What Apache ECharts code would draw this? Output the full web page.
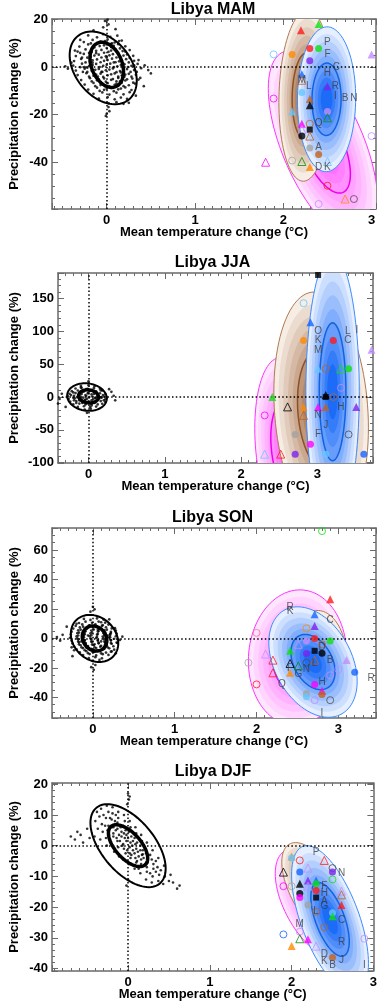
<!DOCTYPE html>
<html><head><meta charset="utf-8">
<script src="https://cdn.jsdelivr.net/npm/echarts/dist/echarts.min.js"></script>
<style>html,body{margin:0;padding:0;background:#fff}#c{width:380px;height:1007px}</style>
</head><body><div id="c"></div><script>
// ---------------- text ----------------
const TITLES = ['Libya MAM', 'Libya JJA', 'Libya SON', 'Libya DJF'];
const X_NAME = 'Mean temperature change (°C)';
const Y_NAME = 'Precipitation change (%)';

// ---------------- axis ranges ----------------
const xRangeMAM = [-0.62, 3.05], yRangeMAM = [-59.7, 20.3];
const xRangeJJA = [-0.40, 3.73], yRangeJJA = [-100.5, 189];
const xRangeSON = [-0.50, 3.46], yRangeSON = [-54, 75];
const xRangeDJF = [-0.93, 3.0],  yRangeDJF = [-40.8, 20.4];

// ---------------- control (natural variability) clouds ----------------
const cloudMAM = [[-0.02,19.5],[0.02,18],[-0.04,16.8],[0.01,20],[0.03,-18.5],[-0.01,-20.5],[0.02,-16.8],[0.0,-19.6],
[0.47,-1.2],[0.43,0.8],[0.5,-2.6],[-0.44,-0.6],[-0.4,1.9],[-0.47,0.4],[0.38,-4.5],[0.33,-12],[-0.3,11.5],[0.1,16],[-0.15,15.5],[0.25,-15],[-0.36,7],[0.42,-8],
[-0.21,13.4],[-0.11,12.6],[-0.04,13.9],[0.04,12.8],[0.12,13.3],
[-0.26,10.6],[-0.16,11.5],[-0.07,10.8],[0.01,11.7],[0.09,10.4],[0.17,11.2],
[-0.31,8.7],[-0.21,9.6],[-0.14,8.3],[-0.03,9.2],[0.05,8.5],[0.13,9.7],[0.21,8.8],
[-0.33,6.6],[-0.24,7.5],[-0.17,6.4],[-0.06,7.3],[0.02,6.5],[0.1,7.6],[0.18,6.8],[0.26,7.2],
[-0.35,4.7],[-0.26,5.6],[-0.18,4.4],[-0.09,5.3],[-0.01,4.6],[0.07,5.5],[0.15,4.5],[0.23,5.4],[0.3,4.8],
[-0.37,2.6],[-0.29,3.5],[-0.19,2.4],[-0.11,3.3],[-0.03,2.7],[0.06,3.6],[0.14,2.5],[0.22,3.4],[0.31,2.7],
[-0.38,0.7],[-0.28,1.5],[-0.2,0.5],[-0.12,1.4],[-0.04,0.6],[0.04,1.5],[0.12,0.4],[0.2,1.3],[0.28,0.6],[0.35,1.4],
[-0.35,-1.4],[-0.25,-0.6],[-0.17,-1.5],[-0.09,-0.7],[-0.01,-1.3],[0.07,-0.5],[0.15,-1.6],[0.23,-0.8],[0.31,-1.2],[0.39,-0.4],
[-0.33,-3.3],[-0.23,-2.5],[-0.15,-3.6],[-0.07,-2.7],[0.01,-3.4],[0.09,-2.6],[0.17,-3.5],[0.25,-2.8],[0.33,-3.2],
[-0.29,-5.4],[-0.19,-4.6],[-0.11,-5.5],[-0.03,-4.7],[0.05,-5.3],[0.13,-4.5],[0.21,-5.6],[0.29,-4.8],[0.36,-5.2],
[-0.25,-7.3],[-0.15,-6.6],[-0.07,-7.5],[0.01,-6.7],[0.09,-7.4],[0.17,-6.5],[0.25,-7.6],[0.32,-6.9],
[-0.21,-9.4],[-0.11,-8.6],[-0.03,-9.5],[0.05,-8.7],[0.13,-9.3],[0.21,-8.5],[0.28,-9.6],
[-0.15,-11.2],[-0.05,-10.6],[0.03,-11.5],[0.11,-10.7],[0.19,-11.4],[0.26,-10.5],
[-0.09,-13.2],[0.01,-12.6],[0.09,-13.5],[0.16,-12.8],[0.23,-13.3],
[0.02,-15.2],[0.11,-14.7],[0.19,-15.4],
[-0.12,5.9],[0.08,2.0],[-0.06,-2.0],[0.16,-2.2],[-0.16,1.9],[0.0,4.0],[0.11,-6.0],[-0.1,-4.0],[0.05,9.8],[-0.22,-0.2],[0.2,-4.0],[-0.02,-8.0],
[-0.16,8.0],[-0.08,8.9],[0.0,8.1],[0.08,9.0],[0.15,7.9],
[-0.2,6.0],[-0.12,6.9],[-0.03,6.1],[0.05,7.0],[0.13,6.0],[0.21,6.6],
[-0.22,4.0],[-0.14,4.9],[-0.06,4.1],[0.03,5.0],[0.11,4.1],[0.19,4.9],[0.26,3.9],
[-0.24,2.0],[-0.16,2.9],[-0.07,2.1],[0.01,3.0],[0.1,2.1],[0.17,2.9],[0.25,2.0],
[-0.25,0.0],[-0.16,0.9],[-0.08,0.1],[0.0,1.0],[0.08,0.0],[0.16,0.9],[0.24,0.1],[0.31,0.8],
[-0.22,-2.0],[-0.13,-1.1],[-0.05,-2.0],[0.03,-1.0],[0.11,-2.1],[0.19,-1.1],[0.27,-2.0],
[-0.2,-4.0],[-0.12,-3.1],[-0.04,-4.1],[0.05,-3.0],[0.13,-4.0],[0.21,-3.1],[0.28,-4.0],
[-0.17,-6.0],[-0.09,-5.1],[-0.01,-6.1],[0.07,-5.0],[0.15,-6.0],[0.23,-5.1],
[-0.13,-8.0],[-0.05,-7.1],[0.03,-8.1],[0.11,-7.0],[0.19,-8.0],
[-0.08,-10.0],[0.0,-9.1],[0.08,-10.1],[0.16,-9.0],
[-0.1,10.2],[-0.02,11.0],[0.06,10.0],[0.14,11.0],[-0.18,10.0],
[-0.28,4.0],[-0.3,0.0],[-0.27,-2.0],[0.34,-2.0],[0.36,3.0],[-0.3,6.0],[0.3,-6.5]];

const cloudJJA = [[-0.38,-3],[-0.35,5],[-0.4,-10],[0.33,2],[0.3,8],[0.35,-5],[0.0,24],[-0.02,-24],[0.27,12],[-0.3,-15],
[-0.1,17],[0.0,18],[0.08,16.5],
[-0.17,13],[-0.09,14],[-0.01,12.5],[0.07,13.5],[0.15,12.8],
[-0.22,9],[-0.14,10],[-0.06,8.5],[0.02,9.5],[0.1,8.8],[0.18,9.8],
[-0.25,5],[-0.17,6],[-0.09,4.5],[-0.01,5.5],[0.07,4.8],[0.15,5.8],[0.22,4.6],
[-0.27,1],[-0.19,2],[-0.11,0.5],[-0.03,1.5],[0.05,0.8],[0.13,1.8],[0.21,0.6],
[-0.26,-3],[-0.18,-2],[-0.1,-3.5],[-0.02,-2.5],[0.06,-3.2],[0.14,-2.2],[0.22,-3.4],
[-0.24,-7],[-0.16,-6],[-0.08,-7.5],[0.0,-6.5],[0.08,-7.2],[0.16,-6.2],[0.22,-7.4],
[-0.2,-11],[-0.12,-10],[-0.04,-11.5],[0.04,-10.5],[0.12,-11.2],[0.18,-10.2],
[-0.14,-15],[-0.06,-14],[0.02,-15.5],[0.1,-14.5],
[-0.05,-19],[0.03,-18],[-0.13,3],[0.09,-1],[-0.05,-5],[0.11,6],[-0.19,-5],[0.17,-1],
[-0.15,0],[-0.07,-1],[0.01,0],[0.09,-1.5],[0.17,0],[-0.12,4],[-0.04,3],[0.04,4],[0.12,3],[-0.12,-5],[-0.04,-4],[0.04,-5],[0.12,-4],[-0.08,8],[0.0,7],[0.08,8],[-0.08,-9],[0.0,-8],[0.08,-9],[-0.2,-1],[0.19,3],[-0.2,7],[0.2,-5],[-0.16,-9],[0.16,10],[-0.03,12],[0.04,-13],[-0.23,3],[0.24,-1],[-0.1,14.5]];

const cloudSON = [[0.0,21.5],[0.02,19.8],[-0.03,18.2],[0.01,-21.3],[-0.02,-19.5],[0.03,-18],[-0.44,1],[-0.4,-1.5],[-0.37,2.5],[0.33,-1],[0.36,1.2],[0.3,-3],[-0.32,8],[0.28,-10],[-0.25,-12],[0.2,13],
[-0.11,13.3],[-0.03,12.6],[0.05,13.6],[0.13,12.8],
[-0.17,10.5],[-0.09,11.4],[-0.01,10.6],[0.07,11.5],[0.15,10.7],
[-0.21,8.6],[-0.13,9.5],[-0.05,8.7],[0.03,9.6],[0.11,8.5],[0.19,9.4],
[-0.24,6.7],[-0.16,7.5],[-0.08,6.5],[0.0,7.4],[0.08,6.6],[0.16,7.6],[0.23,6.8],
[-0.26,4.6],[-0.18,5.5],[-0.1,4.5],[-0.02,5.4],[0.06,4.7],[0.14,5.6],[0.22,4.5],[0.28,5.3],
[-0.27,2.7],[-0.19,3.6],[-0.11,2.5],[-0.03,3.4],[0.05,2.6],[0.13,3.5],[0.21,2.4],[0.29,3.3],
[-0.28,0.5],[-0.2,1.4],[-0.12,0.6],[-0.04,1.5],[0.04,0.4],[0.12,1.3],[0.2,0.7],[0.28,1.5],
[-0.26,-1.5],[-0.18,-0.6],[-0.1,-1.4],[-0.02,-0.5],[0.06,-1.6],[0.14,-0.7],[0.22,-1.3],[0.3,-0.5],
[-0.25,-3.4],[-0.17,-2.6],[-0.09,-3.5],[-0.01,-2.5],[0.07,-3.3],[0.15,-2.7],[0.23,-3.6],[0.29,-2.8],
[-0.23,-5.5],[-0.15,-4.6],[-0.07,-5.4],[0.01,-4.5],[0.09,-5.6],[0.17,-4.7],[0.25,-5.3],
[-0.2,-7.4],[-0.12,-6.6],[-0.04,-7.5],[0.04,-6.5],[0.12,-7.3],[0.2,-6.7],[0.26,-7.6],
[-0.16,-9.5],[-0.08,-8.6],[0.0,-9.4],[0.08,-8.5],[0.16,-9.6],[0.23,-8.8],
[-0.12,-11.3],[-0.04,-10.6],[0.04,-11.5],[0.12,-10.7],[0.19,-11.2],
[-0.05,-13.4],[0.03,-12.7],[0.11,-13.5],[0.0,-15.3],[0.08,-14.6],
[-0.06,2.0],[0.1,-2.0],[0.02,-4.0],[-0.14,-2.0],[0.18,2.0],[-0.08,-6.2],[0.06,6.0],
[-0.12,8.0],[-0.04,8.9],[0.04,8.1],[0.12,9.0],
[-0.15,6.0],[-0.07,6.9],[0.01,6.1],[0.09,7.0],[0.17,6.0],
[-0.17,4.0],[-0.09,4.9],[-0.01,4.1],[0.07,5.0],[0.15,4.1],[0.22,3.7],
[-0.18,2.0],[-0.1,2.9],[-0.02,2.1],[0.06,3.0],[0.14,2.1],[0.21,2.9],
[-0.19,0.0],[-0.11,0.9],[-0.03,0.1],[0.05,1.0],[0.13,0.0],[0.21,0.9],[0.26,-0.2],
[-0.18,-2.0],[-0.1,-1.1],[-0.02,-2.0],[0.06,-1.0],[0.14,-2.1],[0.22,-1.1],
[-0.17,-4.0],[-0.09,-3.1],[-0.01,-4.1],[0.07,-3.0],[0.15,-4.0],[0.22,-3.1],
[-0.14,-6.0],[-0.06,-5.1],[0.02,-6.1],[0.1,-5.0],[0.18,-6.0],
[-0.1,-8.0],[-0.02,-7.1],[0.06,-8.1],[0.14,-7.0],
[-0.06,-10.0],[0.02,-9.1],[0.1,-10.1],
[-0.2,10.0],[0.1,11.0],[-0.23,-8.0],[0.22,-9.0],[-0.26,-6.0],[0.27,7.0]];

const cloudDJF = [[-0.4,8],[-0.41,3],[-0.38,11],
[-0.33,12],[-0.32,7],[-0.34,2],[-0.31,4.5],
[-0.26,13],[-0.27,9],[-0.25,5],[-0.26,0],[-0.24,11],[-0.27,2.5],
[-0.19,12.5],[-0.2,8.5],[-0.18,4],[-0.2,0.5],[-0.17,-2],[-0.19,10.5],[-0.18,6],
[-0.12,11],[-0.13,7.5],[-0.11,3.5],[-0.12,-0.5],[-0.11,-3.5],[-0.13,5.5],[-0.12,9],[-0.1,1.5],
[-0.05,10],[-0.06,6.5],[-0.04,2.5],[-0.05,-1],[-0.06,-4.5],[-0.04,8],[-0.05,4],[-0.03,-2.5],[-0.06,0.5],
[0.02,8],[0.01,4.5],[0.03,1],[0.02,-2.5],[0.01,-6],[0.03,6],[0.02,-0.5],[0.0,2.5],[0.03,-4],
[0.09,6],[0.08,2.5],[0.1,-1],[0.09,-4],[0.08,-7.5],[0.1,4],[0.09,0.5],[0.08,-2.5],[0.1,-5.5],
[0.16,3.5],[0.15,0],[0.17,-3],[0.16,-6],[0.15,-9],[0.17,1.5],[0.16,-4.5],[0.15,-1.5],
[0.23,1],[0.22,-2.5],[0.24,-5.5],[0.23,-8.5],[0.22,-11],[0.24,-4],[0.23,-7],
[0.3,-1.5],[0.29,-4.5],[0.31,-7.5],[0.3,-10],[0.29,-12],[0.31,-6],
[0.37,-4],[0.36,-7],[0.38,-9.5],[0.37,-11.5],
[0.44,-6.5],[0.45,-10],[0.43,-12.5],
[-0.7,3],[-0.62,4.5],[-0.55,1],[-0.5,5.5],[-0.65,2],[-0.58,3.5],[-0.47,2.5],[0.55,-12],[0.6,-14],[0.52,-9.5],[0.63,-13],[0.5,-11.5],
[0.0,17],[0.01,15],[-0.01,13.5],[0.02,16],[-0.02,-13],[0.0,-11],
[-0.2,6],[-0.18,3],[-0.16,8],[-0.15,5],[-0.13,1.5],[-0.14,2.5],[-0.09,6],[-0.08,3],[-0.07,0],[-0.08,4.5],[-0.03,5],[-0.02,1.5],[-0.01,-1.5],[-0.02,3.5],[0.04,3],[0.05,0],[0.04,-3],[0.06,1.5],[0.06,-1.5],[0.11,1],[0.12,-2],[0.11,-5],[0.13,-3.5],[0.18,-1.5],[0.19,-4],[0.2,-6.5],[0.18,-2.8],[-0.22,9],[-0.24,6.5],[-0.28,6.5],[-0.35,9.5],[-0.3,10],[0.27,-3],[0.27,-9],[0.34,-8.5],[0.34,-5],[0.4,-8],[-0.37,5.5],[0.13,-7.5],[-0.15,10]];

// control ellipses: [centreX, centreY, halfWidthX, halfHeightY, correlation]  (outer, inner)
const ctrlEllMAM = [[-0.04,-0.3,0.38,15.3,-0.35],[0.0,1.0,0.19,9.5,-0.3]];
const ctrlEllJJA = [[-0.02,0,0.26,21,-0.1],[0.0,1,0.13,10,-0.1]];
const ctrlEllSON = [[0.02,0,0.29,16,-0.2],[0.02,0,0.15,8.5,-0.15]];
const ctrlEllDJF = [[0,0,0.46,13.5,-0.55],[0,0,0.24,6.8,-0.6]];

// ensemble ellipses: [centreX, centreY, halfWidthX, halfHeightY, correlation]
const pinkMAM = [[2.45,-33,0.62,40,-0.6]];
const brownMAM = [[2.25,-12,0.30,36,0.08]];
const blueMAM = [[2.49,-13.5,0.33,30.5,0.02]];
const pinkJJA = [[2.6,-75,0.42,135,-0.2]];
const brownJJA = [[3.05,-20,0.62,180,-0.15]];
const blueJJA = [[3.2,8,0.35,210,0]];
const pinkSON = [[2.5,-13,0.6,46,0.05]];
const brownSON = [[2.78,-10,0.32,29,-0.1]];
const blueSON = [[2.69,-16,0.54,37.5,-0.35]];
const pinkDJF = [[2.28,-19,0.48,18,-0.55]];
const brownDJF = [[2.3,-15,0.42,16,-0.6]];
const blueDJF = [[2.47,-24,0.47,24,-0.6]];

// individual models: [x, y, colour+shape key]
const marksMAM = [[2.20,15.6,'rT'],[2.40,18.2,'gT'],[1.89,5.4,'lc'],[2.10,5.4,'oC'],[2.30,7.9,'rC'],[2.40,7.9,'gC'],[2.30,2.7,'pC'],[2.21,-3,'bT'],[2.21,-5.5,'nt'],[2.21,-10.6,'lC'],[2.30,-13.4,'nT'],[2.30,-16,'kT'],[2.50,-8,'pT'],[2.10,-18.6,'lT'],[2.50,-18.6,'vC'],[2.50,-21.3,'Gt'],[2.21,-23.8,'mT'],[2.30,-23.8,'nc'],[2.30,-26.3,'kS'],[2.21,-26.3,'vt'],[2.21,-29,'kC'],[2.30,-29,'nt'],[2.30,-34,'aC'],[2.40,-36.8,'nC'],[1.80,-40,'mt'],[2.10,-39.3,'ac'],[2.21,-39.7,'Gt'],[2.50,-39.7,'lt'],[2.30,-42,'oT'],[1.89,-13.2,'mc'],[3.0,5.4,'vT'],[3.0,-29,'vc'],[2.50,-49.9,'rc'],[2.40,-57.6,'vc'],[2.70,-55.5,'ot'],[2.80,-55.5,'dc']];
const marksJJA = [[3.01,186,'kS'],[2.82,143,'lc'],[2.91,114,'bT'],[2.82,86,'oC'],[3.21,86,'rC'],[3.71,72,'vT'],[3.01,43,'lT'],[3.11,43,'nc'],[3.31,43,'gt'],[3.41,43,'gC'],[3.31,14,'vc'],[2.41,0,'gT'],[3.11,0,'kS'],[3.11,3,'kT'],[3.21,0,'nc'],[2.61,-15,'kt'],[2.82,-15,'oT'],[3.01,-15,'mT'],[3.11,-15,'nT'],[3.51,-15,'pT'],[2.31,-28,'mc'],[2.82,-28,'nt'],[2.71,-57,'aC'],[2.91,-72,'mC'],[3.41,-57,'dc'],[2.31,-87,'lt'],[2.52,-87,'rt'],[2.71,-87,'pC'],[3.11,-87,'lC'],[3.61,-87,'bC'],[2.82,-101,'mT']];
const marksSON = [[2.80,72.9,'gc'],[2.90,26.7,'rT'],[2.71,16.5,'bT'],[2.61,6.8,'oc'],[2.71,8.4,'pT'],[2.71,0,'rC'],[2.90,-1.8,'gC'],[2.80,-4,'nc'],[2.00,3.8,'ic'],[2.51,-4,'vt'],[2.61,-1.8,'vC'],[2.71,-8.4,'kS'],[2.80,-10,'kC'],[2.41,-8.4,'gT'],[2.61,-10.2,'pC'],[2.11,-10.6,'vt'],[2.20,-14.7,'rt'],[1.90,-16.5,'ac'],[2.41,-17,'kt'],[2.51,-18.6,'Gt'],[2.61,-16.5,'dc'],[2.71,-14.7,'nt'],[3.10,-14.7,'vT'],[3.00,-21,'vc'],[2.90,-25,'vc'],[3.20,-22.9,'bC'],[2.20,-23.3,'rt'],[2.41,-23.3,'oT'],[2.00,-31.2,'rc'],[2.71,-31.2,'mC'],[2.80,-35.5,'mT'],[2.61,-37.4,'aC'],[2.61,-39.6,'lC'],[2.80,-38,'nC'],[2.71,-41.9,'vc'],[2.90,-41.9,'dc']];
const marksDJF = [[2.0,-3.5,'oT'],[2.0,-4,'lC'],[2.10,-4.8,'rc'],[2.40,-4.8,'rt'],[1.90,-8.6,'kt'],[2.10,-8.6,'bC'],[2.20,-7.3,'vt'],[2.50,-7.3,'dc'],[2.50,-8.6,'pC'],[2.10,-12.4,'kT'],[2.20,-11.3,'pT'],[2.30,-11.3,'bT'],[2.30,-12.4,'gC'],[2.50,-11,'gc'],[1.90,-13.2,'mc'],[2.0,-13.2,'ac'],[2.20,-13.2,'vt'],[2.10,-15.6,'kC'],[2.10,-16.9,'mC'],[2.30,-14.6,'rC'],[2.30,-16.9,'kS'],[2.61,-14.8,'vt'],[2.61,-16,'nt'],[2.20,-19.3,'aC'],[2.30,-21.5,'nc'],[2.61,-19.3,'rT'],[2.50,-21.8,'lC'],[2.50,-23,'gT'],[2.40,-26.6,'nc'],[2.10,-28,'vc'],[1.90,-28.9,'bc'],[2.10,-30.3,'Gt'],[2.20,-30.5,'mT'],[2.89,-30.3,'vc'],[2.0,-32.7,'oT'],[2.30,-32.7,'vt'],[2.50,-36.4,'nC']];

// model letters: [x, y, letter]
const lettersMAM = [[2.5,10.4,'P'],[2.5,5.4,'F'],[2.6,0,'C'],[2.5,-2.7,'H'],[2.59,-8,'R'],[2.59,-12.3,'I'],[2.7,-13.2,'B'],[2.8,-13.2,'N'],[2.29,-8,'L'],[2.21,-5.5,'M'],[2.4,-23.5,'Q'],[2.4,-33.7,'A'],[2.4,-42,'D'],[2.5,-42,'K']];
const lettersJJA = [[3.01,100,'O'],[3.01,86,'K'],[3.01,72,'M'],[3.40,100,'L'],[3.40,86,'C'],[3.52,102,'I'],[3.31,-15,'H'],[3.01,-28,'N'],[3.11,-43,'J'],[3.01,-57,'F']];
const lettersSON = [[2.41,21,'R'],[2.41,18.5,'K'],[2.90,12.5,'C'],[2.80,-6,'D'],[2.71,-17,'L'],[2.61,-20.8,'N'],[2.90,-14.7,'B'],[2.41,-20.4,'F'],[2.51,-24,'G'],[2.31,-31.2,'Q'],[2.80,-29.4,'H'],[3.40,-27,'R'],[2.80,-51,'I']];
const lettersDJF = [[2.30,-2.3,'P'],[2.61,-8.9,'N'],[2.40,-13.2,'F'],[2.40,-15.6,'H'],[2.40,-18,'A'],[2.40,-19.6,'G'],[2.30,-21.5,'L'],[2.61,-24.4,'C'],[2.10,-25.5,'M'],[2.61,-31.4,'R'],[2.40,-35.2,'D'],[2.40,-37.5,'K'],[2.61,-37.3,'J'],[2.50,-38.9,'B'],[2.89,-38.9,'I']];

// ---------------- styles ----------------
const COLORS = {r:'#ff1a1a', g:'#10e010', G:'#0a8f0a', b:'#1464ff', l:'#66c6ff', o:'#ff8a00', p:'#7d22ee', v:'#c38cff', m:'#ff00ff', n:'#c2611d', k:'#000000', a:'#a3a3a3', d:'#4f4f4f', i:'#ff6a9a'};
const SHAPES = {T:['triangle',true], t:['triangle',false], C:['circle',true], c:['circle',false], S:['rect',true]};
const PAL = {
  pink:  {light:[255,230,255], dark:[255,95,255],  edge:'#ff30ff', ring:'#ee00ee'},
  brown: {light:[246,237,229], dark:[158,98,56],   edge:'#b07a50', ring:'#8a5228'},
  blue:  {light:[230,239,255], dark:[28,108,248],  edge:'#3d8bff', ring:'#1263e0'}
};
const AX = '#6a6a6a';
const FONT = 'Liberation Sans';

const GRIDS = [
  {left:50, top:19,  width:326, height:190},
  {left:50, top:273, width:323, height:190},
  {left:50, top:528, width:326, height:190},
  {left:50, top:783, width:326, height:188}
];
const PANELS = [
  {x:xRangeMAM, y:yRangeMAM, cloud:cloudMAM, ctrl:ctrlEllMAM, pink:pinkMAM, brown:brownMAM, blue:blueMAM, marks:marksMAM, letters:lettersMAM, yMinor:4, showXMax:false, yNameGap:31, dot:2.7},
  {x:xRangeJJA, y:yRangeJJA, cloud:cloudJJA, ctrl:ctrlEllJJA, pink:pinkJJA, brown:brownJJA, blue:blueJJA, marks:marksJJA, letters:lettersJJA, yMinor:5, showXMax:false, yNameGap:37, dot:2.7},
  {x:xRangeSON, y:yRangeSON, cloud:cloudSON, ctrl:ctrlEllSON, pink:pinkSON, brown:brownSON, blue:blueSON, marks:marksSON, letters:lettersSON, yMinor:4, showXMax:false, yNameGap:31, dot:2.7},
  {x:xRangeDJF, y:yRangeDJF, cloud:cloudDJF, ctrl:ctrlEllDJF, pink:pinkDJF, brown:brownDJF, blue:blueDJF, marks:marksDJF, letters:lettersDJF, yMinor:5, showXMax:true, yNameGap:31, dot:2.6}
];
const TITLE_POS = [[213,10],[212.5,262.7],[212.5,517.5],[213,771.3]];

// ---------------- helpers ----------------
function ellPts(api, cx, cy, sx, sy, r, k) {
  const pts = [], s = Math.sqrt(1 - r * r), N = 96;
  for (let i = 0; i < N; i++) {
    const t = i / N * 2 * Math.PI, c = Math.cos(t), sn = Math.sin(t);
    pts.push(api.coord([cx + k * sx * c, cy + k * sy * (r * c + s * sn)]));
  }
  return pts;
}
function mix(a, b, t) {
  return 'rgb(' + a.map((v, i) => Math.round(v + (b[i] - v) * t)).join(',') + ')';
}
function colourEllRender(kind) {
  const pal = PAL[kind];
  return function (params, api) {
    const v = [0,1,2,3,4].map(i => api.value(i));
    const children = [];
    const LEVELS = 9;
    for (let i = 0; i < LEVELS; i++) {
      const k = 1 - i * 0.1;
      children.push({type:'polygon', shape:{points: ellPts(api, v[0], v[1], v[2], v[3], v[4], k)},
        style:{fill: mix(pal.light, pal.dark, i / (LEVELS - 1)), stroke: null}});
    }
    children.push({type:'polygon', shape:{points: ellPts(api, v[0], v[1], v[2], v[3], v[4], 1)}, style:{fill:'none', stroke: pal.edge, lineWidth: 1}});
    children.push({type:'polygon', shape:{points: ellPts(api, v[0], v[1], v[2], v[3], v[4], 0.5)}, style:{fill:'none', stroke: pal.ring, lineWidth: 1.5}});
    return {type:'group', children};
  };
}
function ctrlEllRender(params, api) {
  const v = [0,1,2,3,4].map(i => api.value(i));
  return {type:'polygon', shape:{points: ellPts(api, v[0], v[1], v[2], v[3], v[4], 1)},
    style:{fill:'none', stroke:'#000', lineWidth: params.dataIndex === 0 ? 2 : 3.5}};
}
function markerItems(list) {
  return list.map(([x, y, key]) => {
    const col = COLORS[key[0]];
    const [sym, filled] = SHAPES[key[1]];
    const size = sym === 'rect' ? 6 : (sym === 'triangle' ? 8 : 7);
    return {value:[x, y], symbol: sym, symbolSize: size,
      itemStyle: filled ? {color: col, borderWidth: 0} : {color:'rgba(0,0,0,0)', borderColor: col, borderWidth: 1}};
  });
}

// ---------------- build option ----------------
const grid = [], xAxis = [], yAxis = [], series = [];
function axisBase(range, minorSplit) {
  return {type:'value', min: range[0], max: range[1], gridIndex: 0,
    splitLine:{show:false}, minorSplitLine:{show:false},
    axisLine:{show:true, onZero:false, lineStyle:{color: AX, width: 1.5}},
    axisTick:{show:true, inside:true, length:6, lineStyle:{color: AX, width: 1}},
    minorTick:{show:true, splitNumber: minorSplit, length:3, lineStyle:{color: AX, width: 1}}};
}
const labelStyle = {color:'#000', fontWeight:'bold', fontSize:13, fontFamily: FONT};

PANELS.forEach((p, i) => {
  grid.push(Object.assign({containLabel:false}, GRIDS[i]));
  const xb = axisBase(p.x, 10), xt = axisBase(p.x, 10), yl = axisBase(p.y, p.yMinor), yr = axisBase(p.y, p.yMinor);
  [xb, xt, yl, yr].forEach(a => a.gridIndex = i);
  xb.position = 'bottom';
  xb.axisLabel = Object.assign({show:true, margin:5, showMinLabel:false, showMaxLabel:p.showXMax}, labelStyle);
  xb.name = X_NAME; xb.nameLocation = 'middle'; xb.nameGap = 17; xb.nameMoveOverlap = false;
  xb.nameTextStyle = Object.assign({}, labelStyle);
  xt.position = 'top'; xt.axisLabel = {show:false};
  yl.position = 'left';
  yl.splitNumber = (i === 2) ? 6 : 5;
  yr.splitNumber = yl.splitNumber;
  yl.axisLabel = Object.assign({show:true, margin:4, showMinLabel:false, showMaxLabel:false}, labelStyle);
  yl.name = Y_NAME; yl.nameLocation = 'middle'; yl.nameGap = p.yNameGap; yl.nameMoveOverlap = false;
  yl.nameTextStyle = Object.assign({}, labelStyle);
  yr.position = 'right'; yr.axisLabel = {show:false};
  xAxis.push(xb, xt); yAxis.push(yl, yr);
  const xi = 2 * i, yi = 2 * i;

  // control cloud + zero lines
  series.push({type:'scatter', xAxisIndex: xi, yAxisIndex: yi, data: p.cloud, symbol:'circle', symbolSize: p.dot,
    itemStyle:{color:'#000'}, silent:true, z:2, clip:true,
    markLine:{silent:true, symbol:'none', label:{show:false}, animation:false,
      lineStyle:{type:[1.5,2.3], color:'#000', width:1.5},
      emphasis:{disabled:true}, data:[{xAxis:0}, {yAxis:0}]}});
  series.push({type:'custom', xAxisIndex: xi, yAxisIndex: yi, data: p.ctrl, renderItem: ctrlEllRender, silent:true, z:3, clip:true});
  // ensemble ellipses
  ['pink', 'brown', 'blue'].forEach(kind => {
    series.push({type:'custom', xAxisIndex: xi, yAxisIndex: yi, data: p[kind], renderItem: colourEllRender(kind), silent:true, z:4, clip:true});
  });
  // models
  series.push({type:'scatter', xAxisIndex: xi, yAxisIndex: yi, data: markerItems(p.marks), silent:true, z:5, clip:true});
  series.push({type:'scatter', xAxisIndex: xi, yAxisIndex: yi, silent:true, z:6, clip:true,
    data: p.letters.map(([x, y, t]) => ({value:[x, y], name: t})), symbolSize: 0,
    label:{show:true, position:'inside', formatter:'{b}', color:'#3c3c3c', fontSize:10, fontFamily: FONT}});
});

const graphic = TITLES.map((t, i) => ({type:'text', x: TITLE_POS[i][0], y: TITLE_POS[i][1], silent:true,
  style:{text: t, fill:'#000', font:'bold 16px "' + FONT + '"', align:'center', verticalAlign:'middle'}}));

const chart = echarts.init(document.getElementById('c'), null, {renderer:'canvas'});
chart.setOption({animation:false, backgroundColor:'#fff', grid, xAxis, yAxis, series, graphic});
</script></body></html>
